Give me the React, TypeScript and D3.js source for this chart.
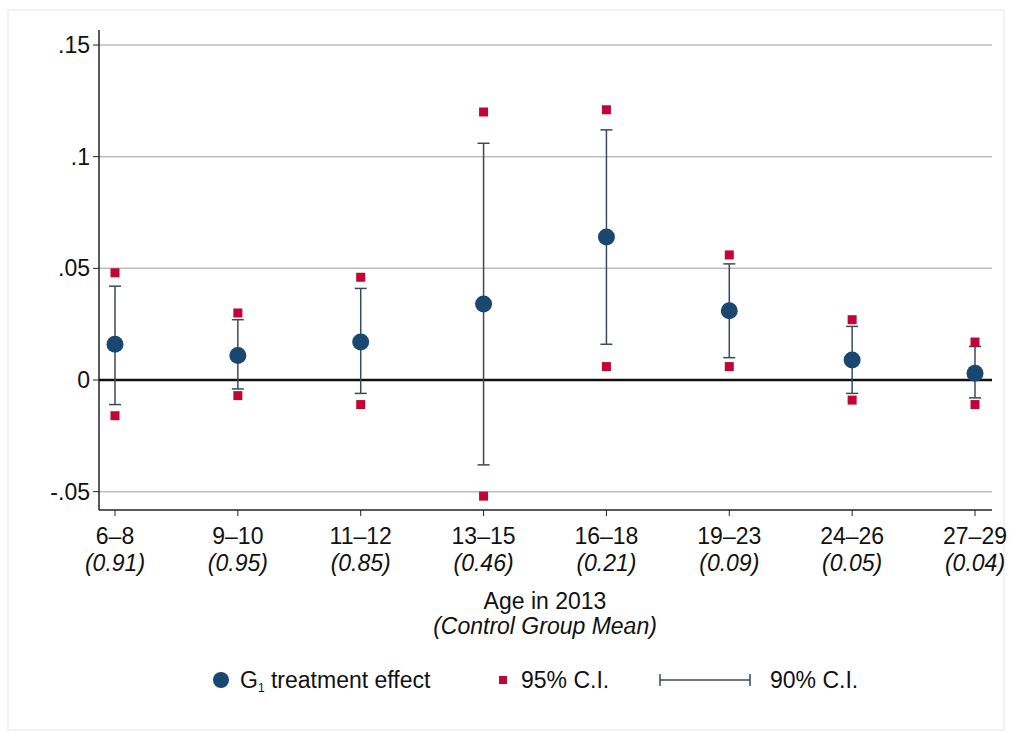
import * as d3 from 'd3';

const groups = ['6–8', '9–10', '11–12', '13–15', '16–18', '19–23', '24–26', '27–29'];
const controlMeans = ['(0.91)', '(0.95)', '(0.85)', '(0.46)', '(0.21)', '(0.09)', '(0.05)', '(0.04)'];
const effect = [0.016, 0.011, 0.017, 0.034, 0.064, 0.031, 0.009, 0.003];
const ci90Low = [-0.011, -0.004, -0.006, -0.038, 0.016, 0.010, -0.006, -0.008];
const ci90High = [0.042, 0.027, 0.041, 0.106, 0.112, 0.052, 0.024, 0.015];
const ci95Low = [-0.016, -0.007, -0.011, -0.052, 0.006, 0.006, -0.009, -0.011];
const ci95High = [0.048, 0.030, 0.046, 0.120, 0.121, 0.056, 0.027, 0.017];
const yTicks = [-0.05, 0, 0.05, 0.1, 0.15];
const yTickLabels = ['-.05', '0', '.05', '.1', '.15'];

const W = 1013, H = 733;
const left = 99, right = 992, top = 30, bottom = 510;
const navy = '#1a476f', red = '#c10534', barCol = '#3a4a5e';
const font = 'Liberation Sans, Arial, sans-serif';
const fs = 23;

export default function App() {
  const x = d3.scaleLinear().domain([0, groups.length - 1]).range([115, 975]);
  const y = d3.scaleLinear().domain([0, 0.15]).range([380, 45]);
  const cap = 6;
  return (
    <svg width={W} height={H} style={{ position: 'absolute', left: 0, top: 0 }} fontFamily={font}>
      <rect x={0} y={0} width={W} height={H} fill="#fff" />
      <rect x={8} y={10} width={996} height={720} fill="none" stroke="#e6e6e6" />
      {yTicks.map((t, i) => (
        <g key={i}>
          {t !== 0 && <line x1={left} x2={right} y1={y(t)} y2={y(t)} stroke="#bdbdbd" strokeWidth={1.5} />}
          <line x1={left - 6} x2={left} y1={y(t)} y2={y(t)} stroke="#222" />
          <text x={left - 9} y={y(t)} dy="0.35em" textAnchor="end" fontSize={fs} fill="#111">{yTickLabels[i]}</text>
        </g>
      ))}
      <line x1={left} x2={left} y1={top} y2={bottom} stroke="#222" strokeWidth={1.5} />
      <line x1={left} x2={right} y1={bottom} y2={bottom} stroke="#222" strokeWidth={1.5} />
      <line x1={left} x2={right} y1={y(0)} y2={y(0)} stroke="#111" strokeWidth={2.5} />
      {groups.map((g, i) => (
        <g key={g}>
          <line x1={x(i)} x2={x(i)} y1={bottom} y2={bottom + 6} stroke="#222" />
          <text x={x(i)} y={bottom + 34} textAnchor="middle" fontSize={fs} fill="#111">{g}</text>
          <text x={x(i)} y={bottom + 61} textAnchor="middle" fontSize={fs} fontStyle="italic" fill="#111">{controlMeans[i]}</text>
          <line x1={x(i)} x2={x(i)} y1={y(ci90Low[i])} y2={y(ci90High[i])} stroke={barCol} strokeWidth={1.5} />
          <line x1={x(i) - cap} x2={x(i) + cap} y1={y(ci90Low[i])} y2={y(ci90Low[i])} stroke={barCol} strokeWidth={1.5} />
          <line x1={x(i) - cap} x2={x(i) + cap} y1={y(ci90High[i])} y2={y(ci90High[i])} stroke={barCol} strokeWidth={1.5} />
          <rect x={x(i) - 4.5} y={y(ci95Low[i]) - 4.5} width={9} height={9} fill={red} />
          <rect x={x(i) - 4.5} y={y(ci95High[i]) - 4.5} width={9} height={9} fill={red} />
          <circle cx={x(i)} cy={y(effect[i])} r={8.5} fill={navy} />
        </g>
      ))}
      <text x={545} y={609} textAnchor="middle" fontSize={fs} fill="#111">Age in 2013</text>
      <text x={545} y={634} textAnchor="middle" fontSize={fs} fontStyle="italic" fill="#111">(Control Group Mean)</text>
      <g fontSize={fs} fill="#111">
        <circle cx={221} cy={680} r={8} fill={navy} />
        <text x={240} y={688}>G<tspan fontSize={12} dy={4}>1</tspan><tspan dy={-4}> treatment effect</tspan></text>
        <rect x={499} y={676} width={8} height={8} fill={red} />
        <text x={521} y={688}>95% C.I.</text>
        <line x1={660} x2={750} y1={680} y2={680} stroke={barCol} strokeWidth={1.5} />
        <line x1={660} x2={660} y1={674} y2={686} stroke={barCol} strokeWidth={1.5} />
        <line x1={750} x2={750} y1={674} y2={686} stroke={barCol} strokeWidth={1.5} />
        <text x={770} y={688}>90% C.I.</text>
      </g>
    </svg>
  );
}
